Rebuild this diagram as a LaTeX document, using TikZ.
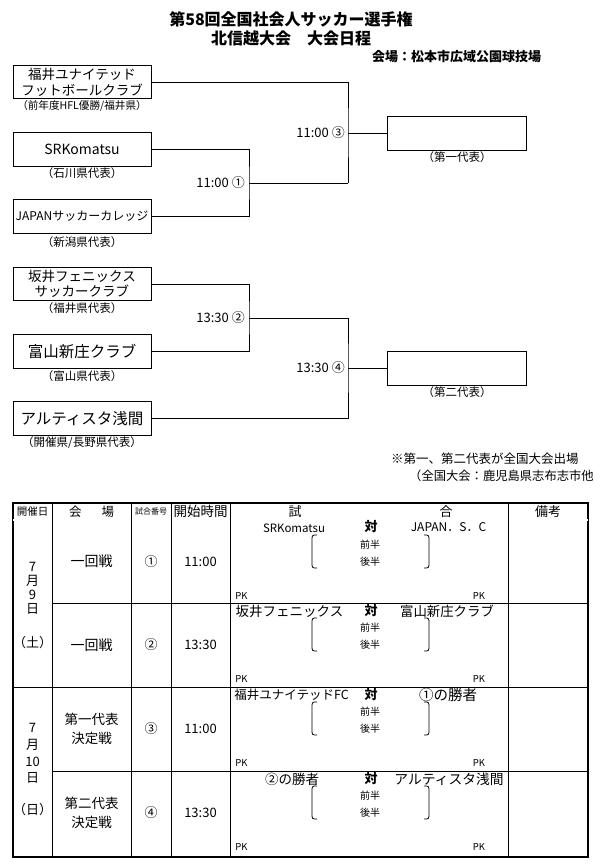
\documentclass[tikz,border=0pt]{standalone}
\usepackage{fontspec}
\setmainfont{Noto Sans CJK JP}
\usetikzlibrary{positioning}

\tikzset{
	teambox/.style={draw, line width=1pt, minimum width=138pt, minimum height=33.5pt, inner sep=0pt, align=center},
	winbox/.style={draw, line width=1pt, minimum width=139pt, minimum height=34pt, inner sep=0pt},
	captxt/.style={inner sep=0pt, font=\fontsize{11.5}{12}\selectfont},
	timetxt/.style={inner sep=0pt, anchor=east, font=\fontsize{13}{14}\selectfont},
	bracket/.style={line width=1pt},
	cell/.style={inner sep=0pt, font=\fontsize{13}{15}\selectfont},
	half/.style={inner sep=0pt, font=\fontsize{10}{11}\selectfont},
	pktxt/.style={inner sep=0pt, font=\fontsize{9.5}{10}\selectfont},
	vstxt/.style={inner sep=0pt, font=\bfseries\fontsize{13}{14}\selectfont},
}

\begin{document}
\begin{tikzpicture}[x=1pt, y=-1pt]
			%%%%% START %%%%%
			\useasboundingbox (0, 0) rectangle (600, 868);
			
			\node[font=\bfseries\fontsize{16}{18}\selectfont] (title) at (291, 19) {第58回全国社会人サッカー選手権};
			\node[font=\bfseries\fontsize{16}{18}\selectfont] (subtitle) at (291, 38) {北信越大会　大会日程};
			\node[font=\bfseries\fontsize{13}{14}\selectfont] (venue) at (456.5, 57) {会場：松本市広域公園球技場};
			
			% teams
			\node[teambox, font=\fontsize{13.5}{16}\selectfont] (fukui) at (82, 82) {福井ユナイテッド\\フットボールクラブ};
			\node[captxt, font=\fontsize{10.6}{11}\selectfont] (fukuicap) at (82, 106) {（前年度HFL優勝/福井県）};
			\node[teambox, font=\fontsize{14}{15}\selectfont] (srk) at (82, 149.5) {SRKomatsu};
			\node[captxt] (srkcap) at (82, 173) {（石川県代表）};
			\node[teambox, font=\fontsize{12}{13}\selectfont] (japan) at (82, 216.5) {JAPANサッカーカレッジ};
			\node[captxt] (japancap) at (82, 242) {（新潟県代表）};
			\node[teambox, font=\fontsize{13.5}{15}\selectfont] (sakai) at (82, 284) {坂井フェニックス\\サッカークラブ};
			\node[captxt] (sakaicap) at (82, 308) {（福井県代表）};
			\node[teambox, font=\fontsize{15.5}{17}\selectfont] (toyama) at (82, 351.5) {富山新庄クラブ};
			\node[captxt] (toyamacap) at (82, 376) {（富山県代表）};
			\node[teambox, font=\fontsize{15.5}{17}\selectfont] (artista) at (82, 418.5) {アルティスタ浅間};
			\node[captxt] (artistacap) at (82, 443) {（開催県/長野県代表）};
			
			% winners
			\node[winbox] (first) at (456.5, 133) {};
			\node[captxt] (firstcap) at (457, 157) {（第一代表）};
			\node[winbox] (second) at (456.5, 368) {};
			\node[captxt] (secondcap) at (457, 392) {（第二代表）};
			
			% brackets
			\coordinate (m1) at (249, 183);
			\coordinate (m2) at (249, 318);
			\coordinate (m3) at (348, 133);
			\coordinate (m4) at (348, 368);
			
			\draw[bracket] (srk.east) -| (m1) |- (japan.east);
			\draw[bracket] (m1) -- (m1 -| m3);
			\draw[bracket] (fukui.east) -| (m3) |- (m1 -| m3);
			\draw[bracket] (m3) -- (first.west);
			
			\draw[bracket] (sakai.east) -| (m2) |- (toyama.east);
			\draw[bracket] (m2) -- (m2 -| m4);
			\draw[bracket] (m2 -| m4) -- (m4) |- (artista.east);
			\draw[bracket] (m4) -- (second.west);
			
			\node[timetxt] (t1) at ([xshift=-4pt]m1) {11:00 ①};
			\node[timetxt] (t2) at ([xshift=-4pt]m2) {13:30 ②};
			\node[timetxt] (t3) at ([xshift=-3pt]m3) {11:00 ③};
			\node[timetxt] (t4) at ([xshift=-3pt]m4) {13:30 ④};
			
			\node[anchor=west, inner sep=0pt, font=\fontsize{12.5}{14}\selectfont] (note1) at (391, 459) {※第一、第二代表が全国大会出場};
			\node[anchor=west, inner sep=0pt, font=\fontsize{12.3}{14}\selectfont] (note2) at (409, 476) {（全国大会：鹿児島県志布志市他};
			
			% table
			\draw[line width=2pt] (13, 503) rectangle (588, 857);
			\draw[double, double distance=1.2pt, line width=0.6pt] (13, 520) -- (588, 520);
			\draw[line width=1pt] (52, 503) -- (52, 857);
			\draw[line width=1pt] (131, 503) -- (131, 857);
			\draw[line width=1pt] (171, 503) -- (171, 857);
			\draw[line width=1pt] (230, 503) -- (230, 857);
			\draw[line width=1pt] (508, 503) -- (508, 857);
			\draw[line width=1pt] (52, 603) -- (588, 603);
			\draw[line width=1pt] (13, 687) -- (588, 687);
			\draw[line width=1pt] (52, 771) -- (588, 771);
			
			\node[cell, font=\fontsize{10.5}{12}\selectfont] (hdate) at (32.5, 511.5) {開催日};
			\node[cell, font=\fontsize{12.5}{14}\selectfont] (hplace) at (91.5, 511.5) {会\hspace{20pt}場};
			\node[cell, font=\fontsize{8}{9}\selectfont] (hno) at (151, 511.5) {試合番号};
			\node[cell, font=\fontsize{13.5}{15}\selectfont] (htime) at (200.5, 511.5) {開始時間};
			\node[cell] (hmatcha) at (295, 511.5) {試};
			\node[cell] (hmatchb) at (446, 511.5) {合};
			\node[cell] (hremark) at (548, 511.5) {備考};
			
			% date column
			\node[cell] (da1) at (32.5, 567) {7};
			\node[cell] (da2) at (32.5, 581) {月};
			\node[cell] (da3) at (32.5, 595) {9};
			\node[cell] (da4) at (32.5, 609) {日};
			\node[cell] (da5) at (32.5, 643) {（土）};
			\node[cell] (db1) at (32.5, 728) {7};
			\node[cell] (db2) at (32.5, 745) {月};
			\node[cell] (db3) at (32.5, 762) {10};
			\node[cell] (db4) at (32.5, 778) {日};
			\node[cell] (db5) at (32.5, 810) {（日）};
			
			% match 1
			\node[cell, font=\fontsize{14}{15}\selectfont] (r1place) at (91.5, 561.5) {一回戦};
			\node[cell] (r1no) at (151, 561.5) {①};
			\node[cell] (r1time) at (200.5, 561.5) {11:00};
			\node[cell, font=\fontsize{11.5}{13}\selectfont] (r1home) at (294, 528) {SRKomatsu};
			\node[vstxt] (r1vs) at (371, 527) {対};
			\node[cell, font=\fontsize{12}{13}\selectfont] (r1away) at (448.5, 527) {JAPAN．S．C};
			\node[half] (r1a) at (370, 545) {前半};
			\node[half] (r1b) at (370, 562) {後半};
			\draw[line width=0.8pt] (317, 535) .. controls (312, 535) .. (312, 541) -- (312, 562) .. controls (312, 568) .. (317, 568);
			\draw[line width=0.8pt] (424, 535) .. controls (429, 535) .. (429, 541) -- (429, 562) .. controls (429, 568) .. (424, 568);
			\node[pktxt] (r1pka) at (241.5, 596) {PK};
			\node[pktxt] (r1pkb) at (479, 596) {PK};
			
			% match 2
			\node[cell, font=\fontsize{14}{15}\selectfont] (r2place) at (91.5, 645) {一回戦};
			\node[cell] (r2no) at (151, 645) {②};
			\node[cell] (r2time) at (200.5, 645) {13:30};
			\node[cell, font=\fontsize{13.5}{15}\selectfont] (r2home) at (289.5, 611) {坂井フェニックス};
			\node[vstxt] (r2vs) at (371, 611) {対};
			\node[cell, font=\fontsize{13.4}{15}\selectfont] (r2away) at (447, 611) {富山新庄クラブ};
			\node[half] (r2a) at (370, 628) {前半};
			\node[half] (r2b) at (370, 645) {後半};
			\draw[line width=0.8pt] (317, 618) .. controls (312, 618) .. (312, 624) -- (312, 645) .. controls (312, 651) .. (317, 651);
			\draw[line width=0.8pt] (424, 618) .. controls (429, 618) .. (429, 624) -- (429, 645) .. controls (429, 651) .. (424, 651);
			\node[pktxt] (r2pka) at (241.5, 679) {PK};
			\node[pktxt] (r2pkb) at (479, 679) {PK};
			
			% match 3
			\node[cell, align=center, font=\fontsize{13.5}{19}\selectfont] (r3place) at (91.5, 729) {第一代表\\決定戦};
			\node[cell] (r3no) at (151, 729) {③};
			\node[cell] (r3time) at (200.5, 729) {11:00};
			\node[cell, font=\fontsize{12.5}{14}\selectfont] (r3home) at (291.5, 695) {福井ユナイテッドFC};
			\node[vstxt] (r3vs) at (371, 695) {対};
			\node[cell, font=\fontsize{14.5}{16}\selectfont] (r3away) at (448, 695) {①の勝者};
			\node[half] (r3a) at (370, 712) {前半};
			\node[half] (r3b) at (370, 729) {後半};
			\draw[line width=0.8pt] (317, 702) .. controls (312, 702) .. (312, 708) -- (312, 729) .. controls (312, 735) .. (317, 735);
			\draw[line width=0.8pt] (424, 702) .. controls (429, 702) .. (429, 708) -- (429, 729) .. controls (429, 735) .. (424, 735);
			\node[pktxt] (r3pka) at (241.5, 763) {PK};
			\node[pktxt] (r3pkb) at (479, 763) {PK};
			
			% match 4
			\node[cell, align=center, font=\fontsize{13.5}{19}\selectfont] (r4place) at (91.5, 813) {第二代表\\決定戦};
			\node[cell] (r4no) at (151, 813) {④};
			\node[cell] (r4time) at (200.5, 813) {13:30};
			\node[cell, font=\fontsize{13.5}{15}\selectfont] (r4home) at (292, 779) {②の勝者};
			\node[vstxt] (r4vs) at (371, 779) {対};
			\node[cell, font=\fontsize{13.75}{15}\selectfont] (r4away) at (449, 779) {アルティスタ浅間};
			\node[half] (r4a) at (370, 796) {前半};
			\node[half] (r4b) at (370, 813) {後半};
			\draw[line width=0.8pt] (317, 786) .. controls (312, 786) .. (312, 792) -- (312, 813) .. controls (312, 819) .. (317, 819);
			\draw[line width=0.8pt] (424, 786) .. controls (429, 786) .. (429, 792) -- (429, 813) .. controls (429, 819) .. (424, 819);
			\node[pktxt] (r4pka) at (241.5, 847) {PK};
			\node[pktxt] (r4pkb) at (479, 847) {PK};
			
			%%%%% END %%%%%
\end{tikzpicture}
\end{document}
